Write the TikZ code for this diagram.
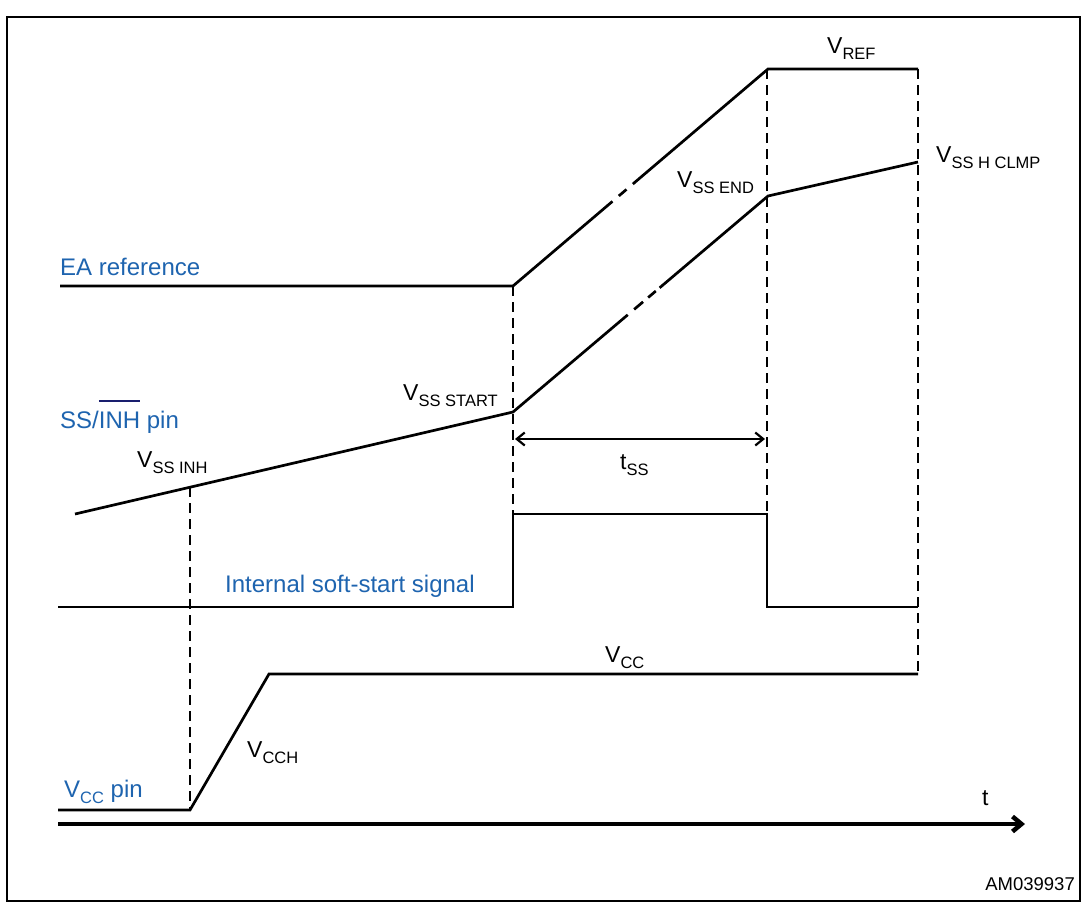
\documentclass[tikz,border=0pt]{standalone}
\usepackage{fontspec}
\usepackage{calc}
\setmainfont{Liberation Sans}
\usetikzlibrary{calc,arrows.meta}

\definecolor{eablue}{RGB}{30,100,175}
\definecolor{barnavy}{RGB}{25,30,110}
\newcommand{\vsub}[2]{#1\raisebox{-6pt}{\fontsize{16.5}{16.5}\selectfont #2}}
\newcommand{\barred}[1]{\makebox[0pt][l]{\color{barnavy}\rule[1.1em]{\widthof{#1}}{1.8pt}}#1}

\begin{document}
\begin{tikzpicture}
	[x = 1pt, y = -1pt,
	wave/.style = {line width = 2.7pt, line join = miter},
	guide/.style = {line width = 2.5pt, dash pattern = on 10pt off 6pt},
	sig/.style = {font = \fontsize{24}{24}\selectfont, text = eablue, inner sep = 0pt, anchor = base west},
	lvl/.style = {font = \fontsize{23}{23}\selectfont, inner sep = 0pt, anchor = base west}]
	\useasboundingbox (0,0) rectangle (1082,903);
	\draw[line width = 2pt] (7,17) rectangle (1080,901);
	% EA reference
	\coordinate (ea1) at (513,286);
	\coordinate (ea2) at (768,69);
	\draw[wave] (60,286) -- (ea1) -- ($(ea1)!.39!(ea2)$);
	\draw[wave] ($(ea1)!.415!(ea2)$) -- ($(ea1)!.445!(ea2)$);
	\draw[wave] ($(ea1)!.47!(ea2)$) -- (ea2) -- (918,69);
	% SS/INH pin
	\coordinate (ss1) at (513,412);
	\coordinate (ss2) at (768,196);
	\draw[wave] (75,514) -- (ss1) -- ($(ss1)!.45!(ss2)$);
	\draw[wave] ($(ss1)!.475!(ss2)$) -- ($(ss1)!.51!(ss2)$);
	\draw[wave] ($(ss1)!.53!(ss2)$) -- ($(ss1)!.56!(ss2)$);
	\draw[wave] ($(ss1)!.575!(ss2)$) -- (ss2) -- (918,162);
	% internal soft-start
	\draw[wave] (58,607) -- (513,607) -- (513,514) -- (767,514) -- (767,607) -- (918,607);
	% VCC pin
	\draw[wave] (58,810) -- (190,810) -- (269,674) -- (918,674);
	% guides
	\draw[guide] (190,487) -- (190,810);
	\draw[guide] (513,286) -- (513,607);
	\draw[guide] (767,69) -- (767,607);
	\draw[guide] (918,69) -- (918,674);
	\draw[line width = 2.2pt, {Straight Barb[length=8pt,width=13pt]}-{Straight Barb[length=8pt,width=13pt]}] (515,439) -- (765,439);
	\draw[line width = 4.5pt, -{Straight Barb[length=9pt,width=15pt]}] (58,824) -- (1025,824);
	% labels
	\node[sig] (eaLbl) at (60,275) {EA reference};
	\node[sig] (ssLbl) at (60,428) {SS/\barred{INH} pin};
	\node[sig] (issLbl) at (225,592) {Internal soft-start signal};
	\node[sig] (vccLbl) at (64,797) {\vsub{V}{CC} pin};
	\node[lvl] (inhLbl) at (137,467) {\vsub{V}{SS INH}};
	\node[lvl] (startLbl) at (403,400) {\vsub{V}{SS START}};
	\node[lvl] (endLbl) at (677,187) {\vsub{V}{SS END}};
	\node[lvl] (refLbl) at (827,53) {\vsub{V}{REF}};
	\node[lvl] (clmpLbl) at (936,162) {\vsub{V}{SS H CLMP}};
	\node[lvl] (tssLbl) at (620,469) {\vsub{t}{SS}};
	\node[lvl] (vccHiLbl) at (605,662) {\vsub{V}{CC}};
	\node[lvl] (vcchLbl) at (247,757) {\vsub{V}{CCH}};
	\node[lvl] (tLbl) at (982,805) {t};
	\node[font = \fontsize{18.5}{18.5}\selectfont, inner sep = 0pt, anchor = base east] (amLbl) at (1075,890) {AM039937};
\end{tikzpicture}
\end{document}
